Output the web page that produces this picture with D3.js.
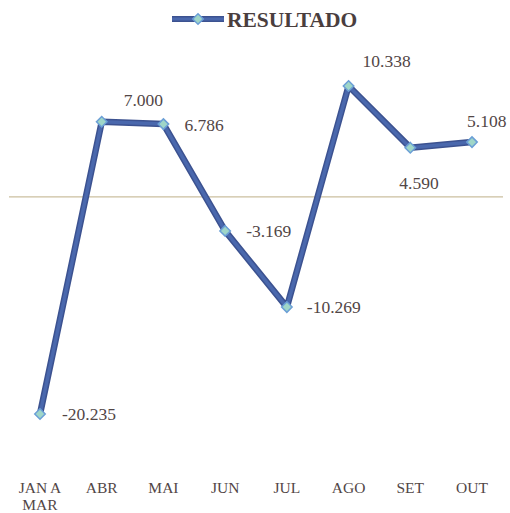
<!DOCTYPE html>
<html><head><meta charset="utf-8">
<script src="https://cdn.jsdelivr.net/npm/d3@7"></script>
<style>body{margin:0;background:#fff;} svg{display:block;}</style>
</head><body>
<svg id="c" width="510" height="513"></svg>
<script>
const categories = ["JAN A MAR","ABR","MAI","JUN","JUL","AGO","SET","OUT"];
const values = [-20235, 7000, 6786, -3169, -10269, 10338, 4590, 5108];
const valueLabels = ["-20.235","7.000","6.786","-3.169","-10.269","10.338","4.590","5.108"];
const seriesName = "RESULTADO";
// label placement per point: [dx, dy]
const labelOffsets = [[22,0],[22,-22],[21,1],[21,0],[20,0],[14,-25],[-11,35],[-5,-21]];

const svg = d3.select("#c");
const font = "'Liberation Serif','DejaVu Serif',serif";
const textColor = "#524646";

const x = d3.scalePoint().domain(categories).range([40, 472]);
const y = d3.scaleLinear().domain([-20235, 10338]).range([414, 86]);

// zero line
svg.append("line").attr("x1", 9).attr("x2", 503)
  .attr("y1", y(0)).attr("y2", y(0))
  .attr("stroke", "#cbbf9f").attr("stroke-width", 1.2);

const line = d3.line().x((d,i)=>x(categories[i])).y(d=>y(d));
svg.append("path").datum(values).attr("d", line)
  .attr("fill","none").attr("stroke","#3c5290").attr("stroke-width",6.5)
  .attr("stroke-linejoin","round");
svg.append("path").datum(values).attr("d", line)
  .attr("fill","none").attr("stroke","#4a68ad").attr("stroke-width",3.5)
  .attr("stroke-linejoin","round");

const diamond = d3.symbol().type(d3.symbolDiamond2).size(70);
svg.selectAll("path.m").data(values).join("path").attr("class","m")
  .attr("d", diamond)
  .attr("transform",(d,i)=>`translate(${x(categories[i])},${y(d)})`)
  .attr("fill","#9fd6c8").attr("stroke","#6b9fd6").attr("stroke-width",1.5);

svg.selectAll("text.v").data(values).join("text").attr("class","v")
  .attr("x",(d,i)=>x(categories[i])+labelOffsets[i][0])
  .attr("y",(d,i)=>y(d)+labelOffsets[i][1])
  .attr("dy","0.35em")
  .attr("font-family",font).attr("font-size",17.5).attr("fill",textColor)
  .text((d,i)=>valueLabels[i]);

// x axis labels
const ax = svg.append("g");
categories.forEach(c=>{
  const words = c === "JAN A MAR" ? ["JAN A","MAR"] : [c];
  words.forEach((w,j)=>{
    ax.append("text").attr("x", x(c)).attr("y", 493 + j*17)
      .attr("text-anchor","middle")
      .attr("font-family",font).attr("font-size",15.5).attr("fill",textColor)
      .text(w);
  });
});

// legend
const lg = svg.append("g");
lg.append("line").attr("x1",172).attr("x2",224).attr("y1",19).attr("y2",19)
  .attr("stroke","#3c5290").attr("stroke-width",6);
lg.append("line").attr("x1",172).attr("x2",224).attr("y1",19).attr("y2",19)
  .attr("stroke","#4a68ad").attr("stroke-width",3);
lg.append("path").attr("d",diamond).attr("transform","translate(198,19)")
  .attr("fill","#9fd6c8").attr("stroke","#6b9fd6").attr("stroke-width",1.5);
lg.append("text").attr("x",227).attr("y",19).attr("dy","0.36em")
  .attr("font-family",font).attr("font-weight","bold").attr("font-size",21.5)
  .attr("fill","#4a3e3e").text(seriesName);
</script>
</body></html>
